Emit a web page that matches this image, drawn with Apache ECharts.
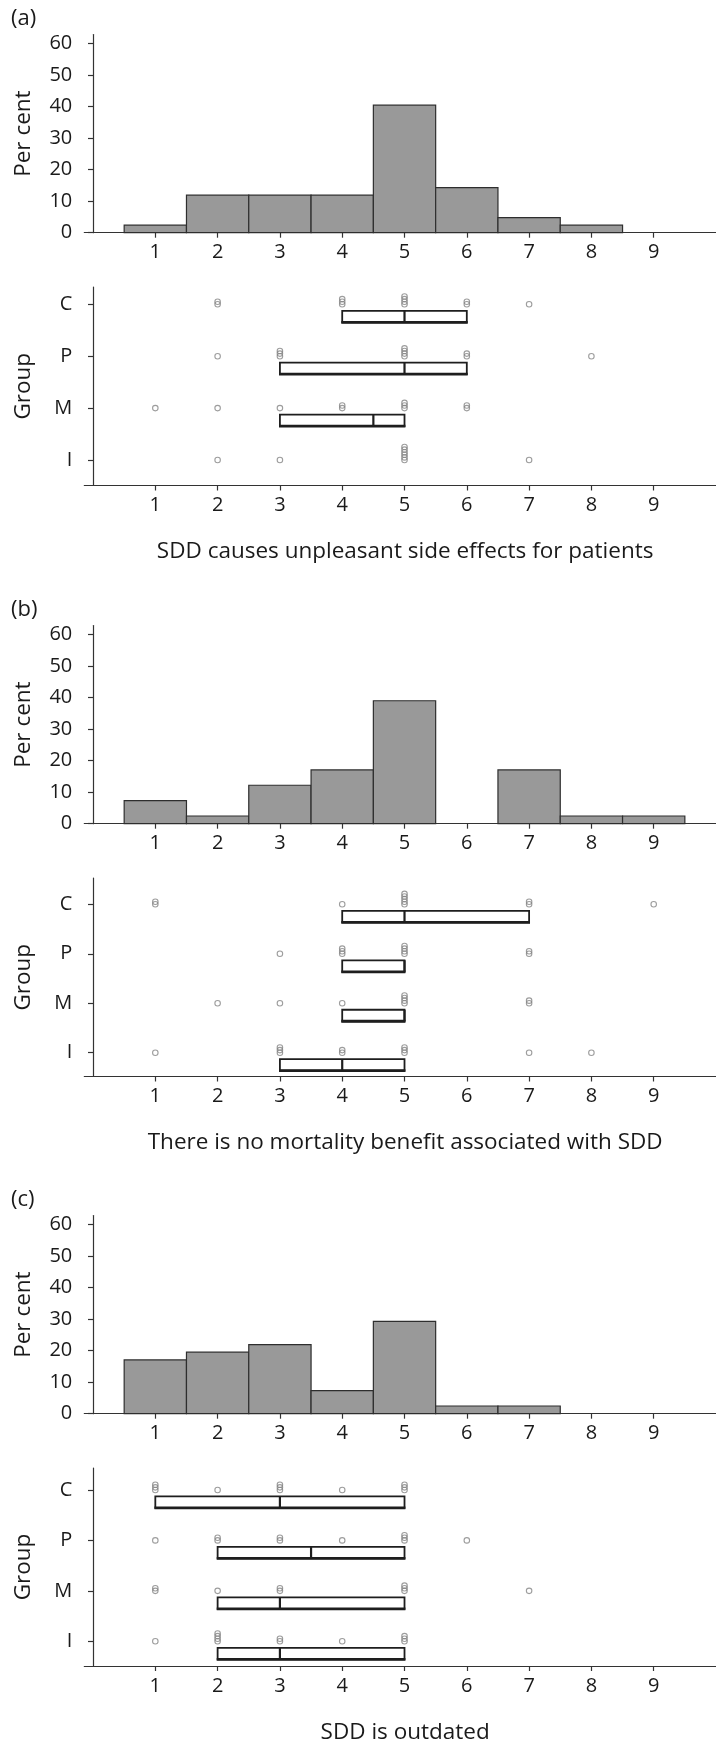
<!DOCTYPE html>
<html><head><meta charset="utf-8">
<script src="https://cdn.jsdelivr.net/npm/echarts@6/dist/echarts.min.js"></script>
<style>html,body{margin:0;padding:0;background:#fff}#c{width:716px;height:1745px}</style>
</head><body><div id="c"></div>
<script>
// ---------------- data ----------------
const scoreTicks = [1, 2, 3, 4, 5, 6, 7, 8, 9];
const percentTicks = [0, 10, 20, 30, 40, 50, 60];
const groupLabels = ['I', 'M', 'P', 'C'];          // bottom to top
const groupTicks = [1, 2, 3, 4];
const panelLetters = ['(a)', '(b)', '(c)'];
const panelTitles = [
  'SDD causes unpleasant side effects for patients',
  'There is no mortality benefit associated with SDD',
  'SDD is outdated'
];
// histogram: per cent of respondents giving score 1..9
const histA = [2.38, 11.90, 11.90, 11.90, 40.48, 14.29, 4.76, 2.38, 0];
const histB = [7.32, 2.44, 12.20, 17.07, 39.02, 0, 17.07, 2.44, 2.44];
const histC = [17.07, 19.51, 21.95, 7.32, 29.27, 2.44, 2.44, 0, 0];
// box stats per group [q1, median, q3], order I, M, P, C
const boxA = [[5, 5, 5], [3, 4.5, 5], [3, 5, 6], [4, 5, 6]];
const boxB = [[3, 4, 5], [4, 5, 5], [4, 5, 5], [4, 5, 7]];
const boxC = [[2, 3, 5], [2, 3, 5], [2, 3.5, 5], [1, 3, 5]];
// individual responses per group as [score, count], order I, M, P, C
const ptsA = [
  [[2, 1], [3, 1], [5, 6], [7, 1]],
  [[1, 1], [2, 1], [3, 1], [4, 2], [5, 3], [6, 2]],
  [[2, 1], [3, 3], [5, 4], [6, 2], [8, 1]],
  [[2, 2], [4, 3], [5, 4], [6, 2], [7, 1]]
];
const ptsB = [
  [[1, 1], [3, 3], [4, 2], [5, 3], [7, 1], [8, 1]],
  [[2, 1], [3, 1], [4, 1], [5, 4], [7, 2]],
  [[3, 1], [4, 3], [5, 4], [7, 2]],
  [[1, 2], [4, 1], [5, 5], [7, 2], [9, 1]]
];
const ptsC = [
  [[1, 1], [2, 4], [3, 2], [4, 1], [5, 3]],
  [[1, 2], [2, 1], [3, 2], [5, 3], [7, 1]],
  [[1, 1], [2, 2], [3, 2], [4, 1], [5, 3], [6, 1]],
  [[1, 3], [2, 1], [3, 3], [4, 1], [5, 3]]
];

// ---------------- layout ----------------
const hists = [histA, histB, histC];
const boxes = [boxA, boxB, boxC];
const points = [ptsA, ptsB, ptsC];
const OFFS = [0, 591, 1181];
const boxYRange = [[0.509, 4.333], [0.519, 4.532], [0.510, 4.435]];
const FONT = '"Open Sans", "Noto Sans", sans-serif';
const INK = '#1a1a1a';
const AX = '#333333';
const STEP = 2.6;

const grids = [], xAxes = [], yAxes = [], series = [], graphics = [];

function xAxisDef(gi, withName, name) {
  return {
    type: 'value', gridIndex: gi, min: -0.14, max: 10,
    axisLine: { show: true, onZero: false, lineStyle: { color: AX, width: 1.2 } },
    axisTick: { show: true, customValues: scoreTicks, length: 5, lineStyle: { color: AX, width: 1.2 } },
    axisLabel: { show: true, customValues: scoreTicks, margin: 10, fontSize: 20, color: INK, fontFamily: FONT },
    splitLine: { show: false },
    name: withName ? name : '', nameLocation: 'middle', nameGap: 55,
    nameTextStyle: { fontSize: 22.5, color: INK, fontFamily: FONT, padding: [0, 0, 0, 10] }
  };
}

for (let p = 0; p < 3; p++) {
  const o = OFFS[p];
  const hg = 2 * p, bg = 2 * p + 1;
  grids.push({ left: 84.3, right: 0, top: 34.5 + o, height: 198.2 });
  grids.push({ left: 84.3, right: 0, top: 287 + o, height: 198.5 });

  xAxes.push(xAxisDef(hg, false, ''));
  xAxes.push(xAxisDef(bg, true, panelTitles[p]));

  yAxes.push({
    type: 'value', gridIndex: hg, min: 0, max: 62.9,
    axisLine: { show: true, lineStyle: { color: AX, width: 1.2 } },
    axisTick: { show: true, customValues: percentTicks, length: 5, lineStyle: { color: AX, width: 1.2 } },
    axisLabel: { show: true, customValues: percentTicks, margin: 12, fontSize: 20, color: INK, fontFamily: FONT },
    splitLine: { show: false },
    name: 'Per cent', nameLocation: 'middle', nameGap: 49,
    nameTextStyle: { fontSize: 22.5, color: INK, fontFamily: FONT }
  });
  yAxes.push({
    type: 'value', gridIndex: bg, min: boxYRange[p][0], max: boxYRange[p][1],
    axisLine: { show: true, lineStyle: { color: AX, width: 1.2 } },
    axisTick: { show: true, customValues: groupTicks, length: 5, lineStyle: { color: AX, width: 1.2 } },
    axisLabel: { show: true, customValues: groupTicks, margin: 12, fontSize: 20, color: INK, fontFamily: FONT,
      formatter: v => groupLabels[Math.round(v) - 1] || '' },
    splitLine: { show: false },
    name: 'Group', nameLocation: 'middle', nameGap: 49,
    nameTextStyle: { fontSize: 22.5, color: INK, fontFamily: FONT }
  });

  // histogram bars
  series.push({
    type: 'custom', xAxisIndex: hg, yAxisIndex: hg, silent: true,
    data: hists[p].map((v, i) => [scoreTicks[i], v]).filter(d => d[1] > 0),
    encode: { x: 0, y: 1 },
    renderItem: (params, api) => {
      const x = api.value(0), h = api.value(1);
      const a = api.coord([x - 0.5, h]), b = api.coord([x + 0.5, 0]);
      return { type: 'rect', shape: { x: a[0], y: a[1], width: b[0] - a[0], height: b[1] - a[1] },
        style: { fill: '#999999', stroke: '#2e2e2e', lineWidth: 1.2 } };
    }
  });

  // boxes (q1 - median - q3), drawn just below each group's line
  series.push({
    type: 'custom', xAxisIndex: bg, yAxisIndex: bg, silent: true,
    data: boxes[p].map((b, gi) => [groupTicks[gi], b[0], b[1], b[2]]),
    encode: { y: 0, x: [1, 2, 3] },
    renderItem: (params, api) => {
      const g = api.value(0), q1 = api.value(1), md = api.value(2), q3 = api.value(3);
      if (q3 <= q1) return { type: 'group', children: [] };
      const a = api.coord([q1, g]), m = api.coord([md, g]), b = api.coord([q3, g]);
      const top = a[1] + 6.5, h = 11.5;
      return { type: 'group', children: [
        { type: 'rect', shape: { x: a[0], y: top, width: b[0] - a[0], height: h },
          style: { fill: '#fff', stroke: '#1e1e1e', lineWidth: 1.8 } },
        { type: 'line', shape: { x1: a[0] - 0.9, y1: top + h, x2: b[0] + 0.9, y2: top + h },
          style: { stroke: '#1e1e1e', lineWidth: 2.8 } },
        { type: 'line', shape: { x1: m[0], y1: top, x2: m[0], y2: top + h },
          style: { stroke: '#1e1e1e', lineWidth: 2.2 } }
      ] };
    }
  });

  // individual responses, duplicates stacked upward
  const sd = [];
  points[p].forEach((grp, gi) => {
    grp.forEach(([score, cnt]) => {
      for (let k = 0; k < cnt; k++) {
        sd.push({ value: [score, groupTicks[gi]], symbolOffset: [0, -k * STEP] });
      }
    });
  });
  series.push({
    type: 'scatter', xAxisIndex: bg, yAxisIndex: bg, silent: true,
    symbol: 'circle', symbolSize: 5.5,
    itemStyle: { color: 'rgba(255,255,255,0)', borderColor: '#858585', borderWidth: 1.1 },
    data: sd
  });

  graphics.push({ type: 'text', left: 11, top: 8 + o,
    style: { text: panelLetters[p], fontSize: 22, fill: INK, fontFamily: FONT } });
}

const chart = echarts.init(document.getElementById('c'), null, { renderer: 'canvas' });
chart.setOption({
  animation: false,
  backgroundColor: '#fff',
  grid: grids, xAxis: xAxes, yAxis: yAxes, series: series, graphic: graphics
});
</script></body></html>
